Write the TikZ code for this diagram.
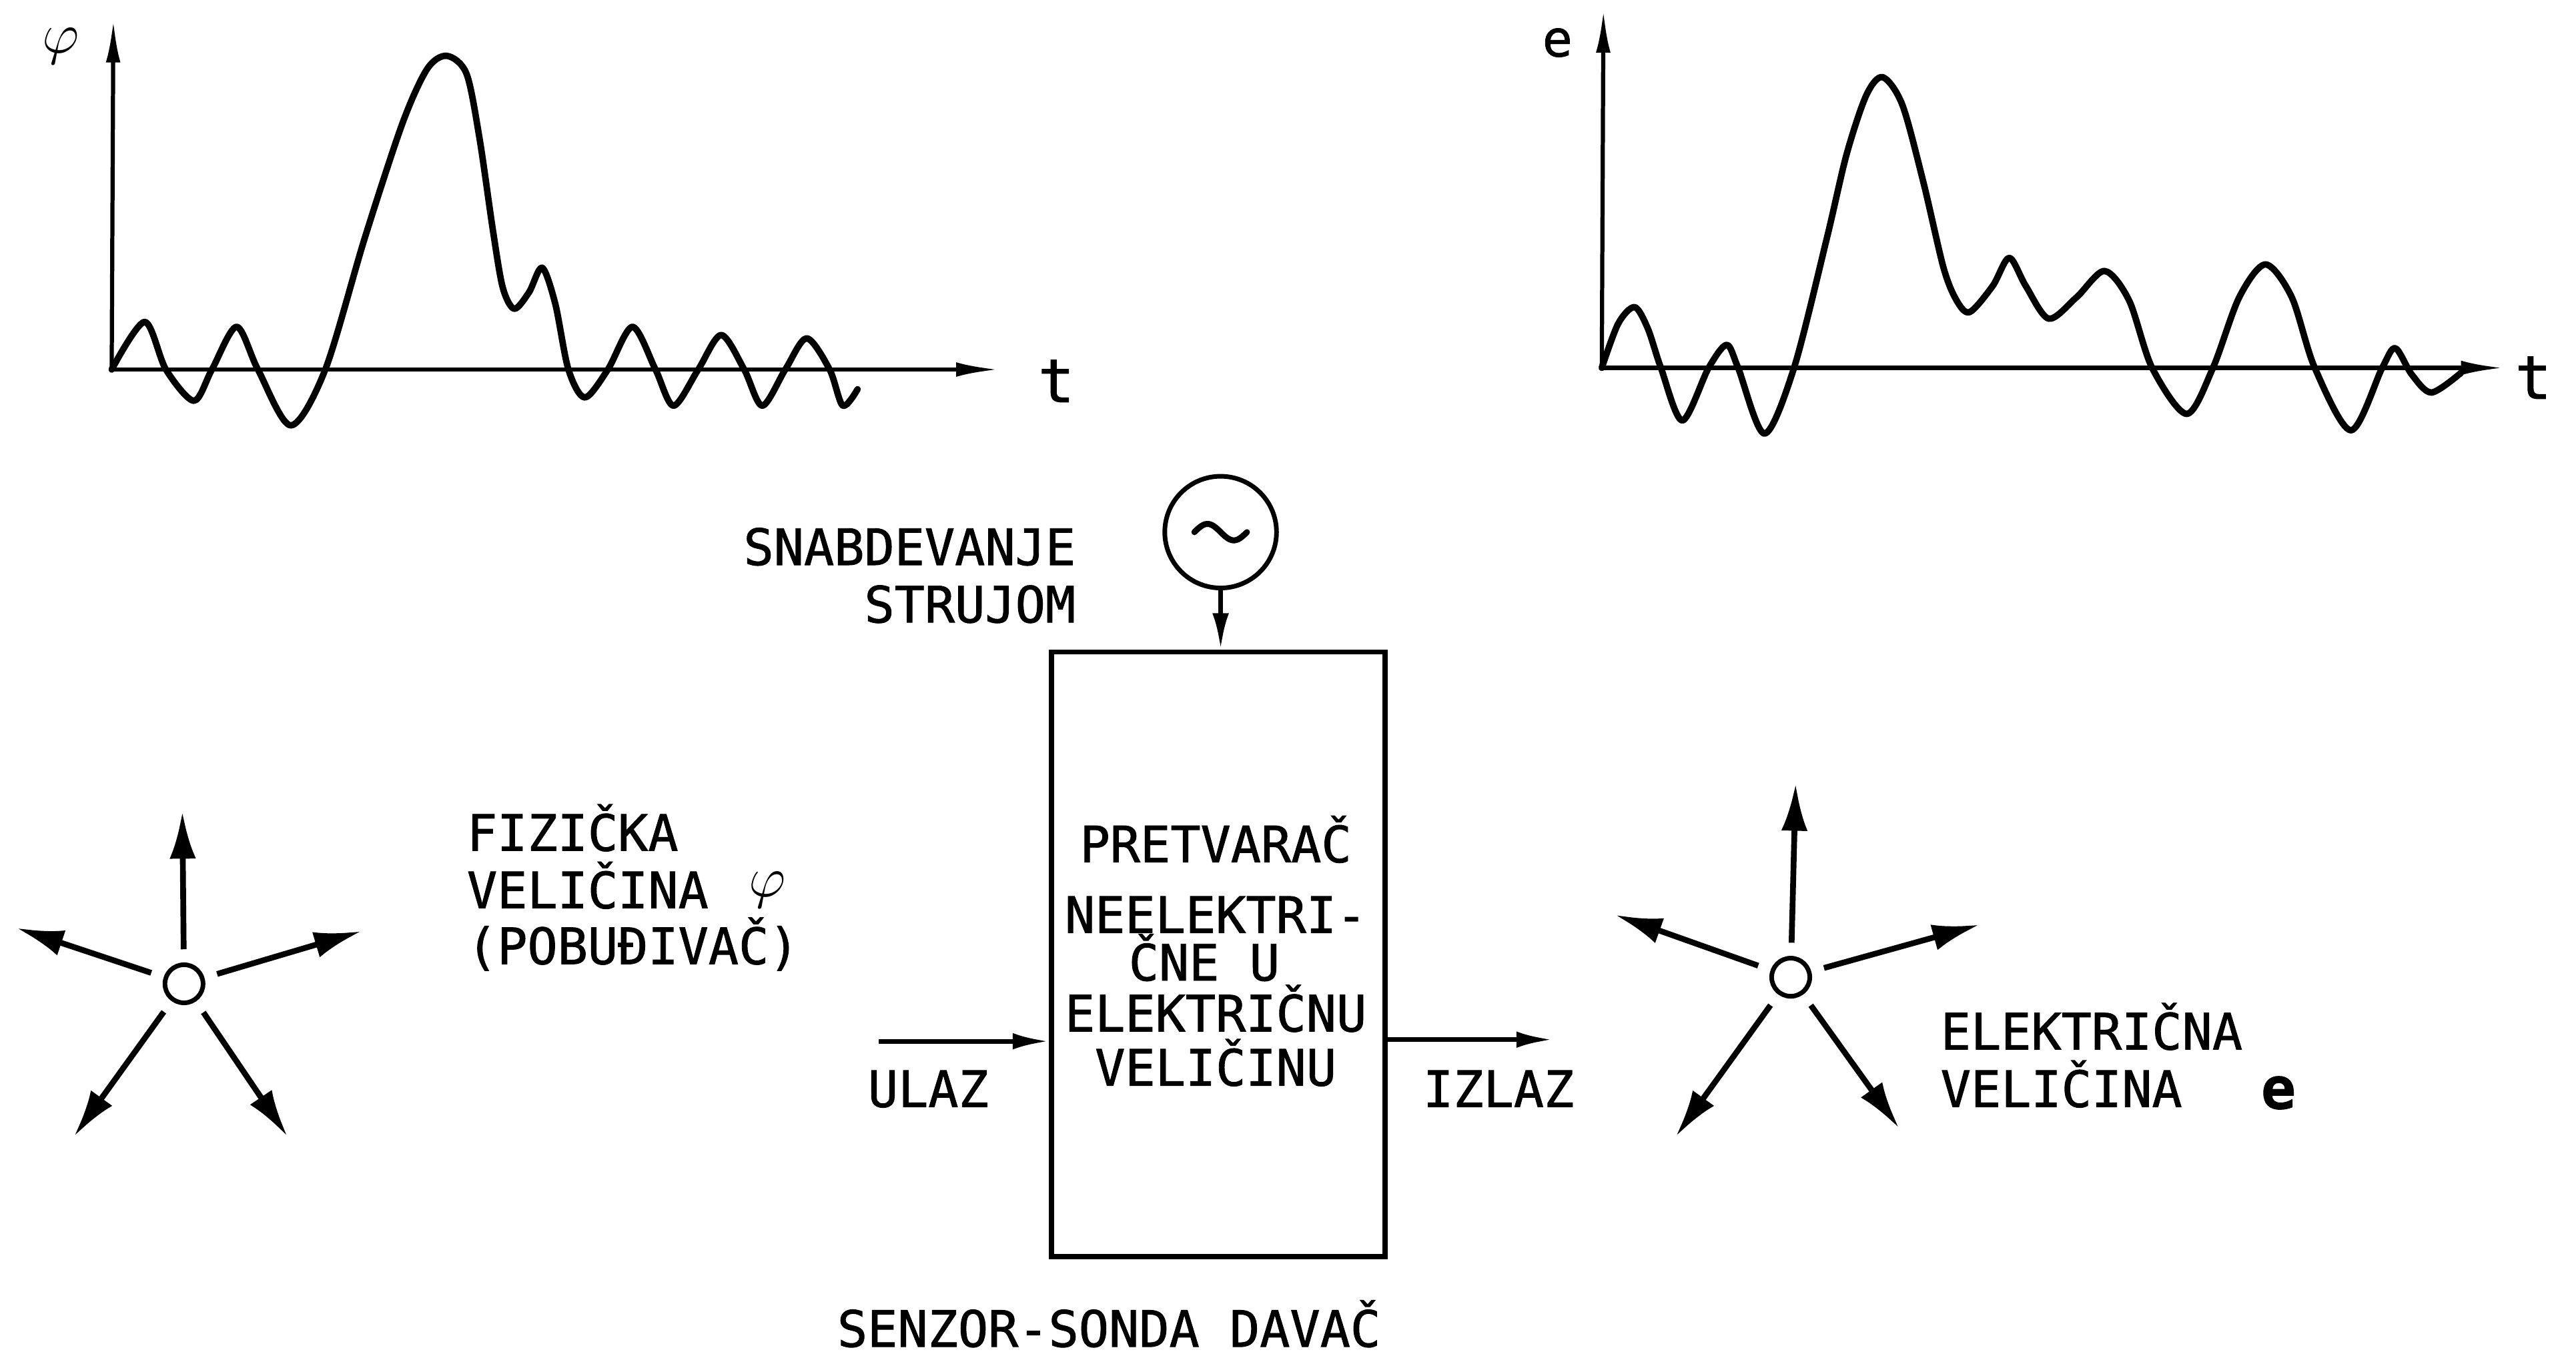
\documentclass[tikz,border=0pt]{standalone}
\usepackage{fontspec}
\setmainfont[FakeBold=1.2]{DejaVu Sans Mono}
\usetikzlibrary{arrows.meta}

\tikzset{
  lbl/.style={inner sep=0pt, font=\fontsize{21.7}{24}\selectfont},
  curve/.style={line width=2.8pt, line join=round, line cap=round},
  axis/.style={line width=1.8pt, -{Latex[length=0.65cm,width=0.22cm]}},
  ray/.style={line width=2.5pt, shorten <=0.2cm, -{Latex[length=0.72cm,width=0.4cm]}},
  flow/.style={line width=2pt, -{Latex[length=0.55cm,width=0.25cm]}},
  src/.style={draw, circle, line width=2pt, minimum size=0.58cm, inner sep=0pt},
}

\begin{document}
\begin{tikzpicture}[x=0.025cm, y=-0.025cm]
\useasboundingbox (0,0) rectangle (1568,835);
% input signal phi(t):
\coordinate (o1) at (68,225);
\draw[axis] (o1) -- (69,12);
\draw[axis] (o1) -- (608,225);
\node[lbl] (phiax) at (37,28) {\fontsize{30}{30}\selectfont$\varphi$};
\node[lbl] (t1) at (643,232) {\fontsize{26}{26}\selectfont t};
\draw[curve] plot[smooth] coordinates {(68,225) (88,196) (101,225) (118,244) (129,225) (144,199) (157,225) (177,259) (198,225) (222,145) (245,75) (260,42) (272,34) (284,45) (292,85) (300,140) (306,175) (313,188) (322,178) (330,163) (338,185) (346,225) (356,242) (370,225) (385,199) (399,225) (410,247) (425,225) (439,204) (453,225) (464,247) (478,225) (491,206) (505,225) (513,247) (522,237)};
% output signal e(t):
\coordinate (o2) at (975,224);
\draw[axis] (o2) -- (976,6);
\draw[axis] (o2) -- (1524,224);
\node[lbl] (eax) at (948,26) {e};
\node[lbl] (t2) at (1542,230) {\fontsize{26}{26}\selectfont t};
\draw[curve] plot[smooth] coordinates {(975,224) (985,197) (995,187) (1003,200) (1011,224) (1024,256) (1040,224) (1051,210) (1058,224) (1074,264) (1092,224) (1112,145) (1124,94) (1136,58) (1146,47) (1158,64) (1171,112) (1183,163) (1191,183) (1199,190) (1213,174) (1223,157) (1233,174) (1247,194) (1264,181) (1281,165) (1296,183) (1310,224) (1331,252) (1347,224) (1363,181) (1379,161) (1395,181) (1409,224) (1431,262) (1450,224) (1458,212) (1468,228) (1480,239) (1498,227)};
% transducer:
\node[draw, line width=2.2pt, minimum width=5.075cm, minimum height=9.2cm] (conv) at (741.5,581) {};
\node[draw, circle, line width=2pt, minimum size=1.7cm, inner sep=0pt] (gen) at (743,324) {};
\draw[line width=2.6pt, line cap=round, shift={(gen.center)}] plot[domain=-16:16, samples=40, smooth] (\x, {5*sin(11.25*\x)});
\draw[flow] (gen.south) -- (gen.south |- conv.north);
\node[lbl, anchor=base east] (sup1) at (655,344) {SNABDEVANJE};
\node[lbl, anchor=base east] (sup2) at (655,379) {STRUJOM};
\node[lbl, anchor=base] (c1) at (740,525) {PRETVARAČ};
\node[lbl, anchor=base] (c2) at (740,568) {NEELEKTRI-};
\node[lbl, anchor=base] (c3) at (733,597) {ČNE U};
\node[lbl, anchor=base] (c4) at (740,628) {ELEKTRIČNU};
\node[lbl, anchor=base] (c5) at (740,661) {VELIČINU};
\coordinate (in) at (535,634);
\coordinate (out) at (945,633);
\draw[flow] (in) -- (in -| conv.west);
\draw[flow] (out -| conv.east) -- (out);
\node[lbl, anchor=base west] (ulaz) at (528,674) {ULAZ};
\node[lbl, anchor=base west] (izlaz) at (866,674) {IZLAZ};
\node[lbl, anchor=base] (senz) at (675,820) {SENZOR-SONDA DAVAČ};
% excitation source:
\node[src] (exc) at (112,599) {};
\foreach \x/\y [count=\i] in {111/494, 10/565, 220/567, 45/692, 175/692}
  {\coordinate (a\i) at (\x,\y); \draw[ray] (exc) -- (a\i);}
\node[lbl, anchor=base west] (fz1) at (284,518) {FIZIČKA};
\node[lbl, anchor=base west] (fz2) at (284,553) {VELIČINA};
\node[lbl] (fzphi) at (467,542) {\fontsize{26}{26}\selectfont$\varphi$};
\node[lbl, anchor=base west] (fz3) at (284,587) {(POBUĐIVAČ)};
% electrical output:
\node[src] (res) at (1090,595) {};
\foreach \x/\y [count=\i] in {1093/477, 983/557, 1205/563, 1020/692, 1156/687}
  {\coordinate (b\i) at (\x,\y); \draw[ray] (res) -- (b\i);}
\node[lbl, anchor=base west] (el1) at (1181,639) {ELEKTRIČNA};
\node[lbl, anchor=base west] (el2) at (1181,674) {VELIČINA};
\node[lbl, anchor=base west] (el3) at (1376,675) {\fontsize{25}{25}\selectfont\bfseries e};
\end{tikzpicture}
\end{document}
